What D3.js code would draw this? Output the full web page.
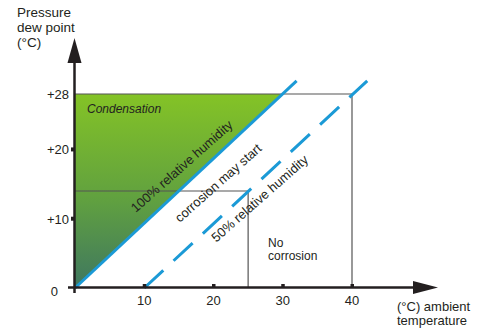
<!DOCTYPE html>
<html><head><meta charset="utf-8">
<script src="https://cdn.jsdelivr.net/npm/d3@7"></script>
<style>body{margin:0;background:#fff}svg{display:block}text{font-family:"Liberation Sans",Arial,sans-serif;fill:#231f20}</style>
</head><body>
<svg id="c" width="477" height="330"></svg>
<script>
// ---- data ----
const xTicks = [10, 20, 30, 40];
const xTickLabels = ["10", "20", "30", "40"];
const yTicks = [0, 10, 20, 28];
const yTickLabels = ["0", "+10", "+20", "+28"];
const condensationArea = [[0, 0], [0, 28], [30, 28]];
const rh100Line = [[0, 0], [32, 29.9]];
const rh50Line = [[10, 0], [42.2, 29.9]];
const box28 = [[0, 28], [40, 28], [40, 0]];
const box14 = [[0, 14], [25, 14], [25, 0]];
const yTitle = ["Pressure", "dew point", "(°C)"];
const xTitle = ["(°C) ambient", "temperature"];
const lineLabels = [
  {text: "100% relative humidity", line: rh100Line, at: 17.0, off: -16},
  {text: "corrosion may start", line: rh100Line, at: 18.6, off: 21},
  {text: "50% relative humidity", line: rh50Line, at: 25.4, off: 13}
];

const svg = d3.select("#c");
const x = d3.scaleLinear().domain([0, 40]).range([75, 352]);
const y = d3.scaleLinear().domain([0, 28]).range([288, 94]);
const ink = "#231f20", blue = "#1b9ad6";

const defs = svg.append("defs");
const g = defs.append("linearGradient").attr("id", "grn").attr("x1", 0).attr("y1", 0).attr("x2", 0).attr("y2", 1);
g.append("stop").attr("offset", "0%").attr("stop-color", "#84c326");
g.append("stop").attr("offset", "55%").attr("stop-color", "#60a040");
g.append("stop").attr("offset", "100%").attr("stop-color", "#3f7760");

const line = d3.line().x(d => x(d[0])).y(d => y(d[1]));

svg.append("path").attr("d", line(condensationArea) + "Z").attr("fill", "url(#grn)");

svg.append("path").attr("d", line(box28)).attr("fill", "none").attr("stroke", "#555").attr("stroke-width", 1.2);
svg.append("path").attr("d", line(box14)).attr("fill", "none").attr("stroke", "#555").attr("stroke-width", 1.2);

svg.append("path").attr("d", line(rh100Line)).attr("stroke", blue).attr("stroke-width", 3).attr("fill", "none");
svg.append("path").attr("d", line(rh50Line)).attr("stroke", blue).attr("stroke-width", 3).attr("fill", "none")
  .attr("stroke-dasharray", "26,14");

// axes
svg.append("line").attr("x1", x(0) - 0.5).attr("x2", x(0) - 0.5).attr("y1", 293).attr("y2", 60)
  .attr("stroke", ink).attr("stroke-width", 2.5);
svg.append("path").attr("d", `M${x(0) - 0.5},38 L${x(0) - 7.5},63 L${x(0) + 6.5},63 Z`).attr("fill", ink);
svg.append("line").attr("x1", 68).attr("x2", 415).attr("y1", y(0) - 0.5).attr("y2", y(0) - 0.5)
  .attr("stroke", ink).attr("stroke-width", 2.5);
svg.append("path").attr("d", `M438,${y(0) - 0.5} L413,${y(0) - 7} L413,${y(0) + 6} Z`).attr("fill", ink);

// tick marks
svg.selectAll(".xt").data(xTicks).join("rect")
  .attr("x", d => x(d) - 1.5).attr("y", y(0) - 4).attr("width", 3.5).attr("height", 3).attr("fill", ink);
svg.selectAll(".yt").data(yTicks.filter(d => d > 0 && d < 28)).join("rect")
  .attr("x", x(0) - 4).attr("y", d => y(d) - 2).attr("width", 3).attr("height", 4).attr("fill", ink);

svg.selectAll(".xl").data(xTicks).join("text")
  .attr("x", d => x(d)).attr("y", 305).attr("text-anchor", "middle").attr("font-size", 13)
  .text((d, i) => xTickLabels[i]);
svg.selectAll(".yl").data(yTicks).join("text")
  .attr("x", d => d === 0 ? 58 : 69).attr("y", d => y(d) + (d === 0 ? 8 : 5))
  .attr("text-anchor", "end").attr("font-size", 13)
  .text((d, i) => yTickLabels[i]);

// titles
svg.selectAll(".yti").data(yTitle).join("text")
  .attr("x", 17).attr("y", (d, i) => 17 + i * 15).attr("font-size", 13.5).text(d => d);
svg.selectAll(".xti").data(xTitle).join("text")
  .attr("x", 397).attr("y", (d, i) => 311 + i * 14).attr("font-size", 13).text(d => d);

svg.append("text").attr("x", 87).attr("y", 113).attr("font-size", 12).attr("font-style", "italic").text("Condensation");
svg.append("text").attr("x", 268).attr("y", 247).attr("font-size", 12).text("No");
svg.append("text").attr("x", 268).attr("y", 260).attr("font-size", 12).text("corrosion");

// rotated labels along lines
lineLabels.forEach(l => {
  const [p0, p1] = l.line;
  const dx = x(p1[0]) - x(p0[0]), dy = y(p1[1]) - y(p0[1]);
  const len = Math.hypot(dx, dy);
  const ang = Math.atan2(dy, dx) * 180 / Math.PI + 1.5;
  const t = (l.at - p0[0]) / (p1[0] - p0[0]);
  const px = x(p0[0]) + dx * t, py = y(p0[1]) + dy * t;
  const nx = -dy / len, ny = dx / len;
  const cx = px + nx * l.off, cy = py + ny * l.off;
  svg.append("text").attr("transform", `translate(${cx},${cy}) rotate(${ang})`)
    .attr("text-anchor", "middle").attr("dominant-baseline", "central").attr("font-size", 13).text(l.text);
});
</script>
</body></html>
